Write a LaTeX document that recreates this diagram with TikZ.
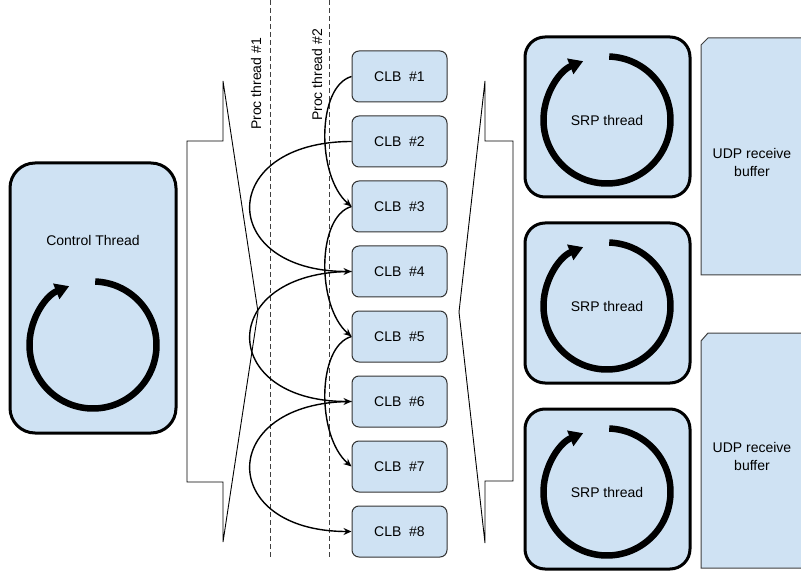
\documentclass[tikz,border=0pt]{standalone}
\usepackage{fontspec}
\setmainfont{Liberation Sans}
\usetikzlibrary{arrows.meta}
\definecolor{boxfill}{HTML}{CFE2F3}
\begin{document}
\begin{tikzpicture}[x=1pt,y=-1pt,
  font=\fontsize{14}{18}\selectfont,
  clb/.style={draw=black!80, line width=1pt, fill=boxfill, rounded corners=7pt,
    minimum width=95pt, minimum height=51pt, inner sep=0pt},
  thr/.style={draw=black, line width=3pt, fill=boxfill, inner sep=0pt},
  loop/.style={line width=6.5pt, -{Triangle[length=14pt,width=16pt]}},
  conn/.style={line width=1.4pt, -{Stealth[length=8pt,width=7pt]}},
  guide/.style={draw=black!75, line width=1pt, dash pattern=on 5pt off 3pt},
  funnel/.style={draw=black, line width=0.9pt},
  buf/.style={draw=black!75, line width=1pt, fill=boxfill},
  lbl/.style={inner sep=0pt, align=center}]
\useasboundingbox (0,0) rectangle (801,572);
\clip (0,0) rectangle (801,572);

% guides
\draw[guide] (270,0) -- (270,557);
\draw[guide] (329,0) -- (329,557);
\node[lbl, rotate=90, font=\fontsize{14}{16}\selectfont] (p1) at (256,84) {Proc thread \#1};
\node[lbl, rotate=90, font=\fontsize{14}{16}\selectfont] (p2) at (317,75) {Proc thread \#2};

% funnels
\draw[funnel] (187,141) -- (223,141) -- (223,81) -- (258,312) -- (223,542) -- (223,482) -- (187,482) -- cycle;
\draw[funnel] (513,141) -- (485,141) -- (485,81) -- (459,312) -- (485,543) -- (485,481) -- (513,481) -- cycle;

% control thread
\node[thr, rounded corners=25pt, minimum width=166pt, minimum height=270pt] (ctl) at (93,298) {};
\node[lbl] (ctltext) at (93,240) {Control Thread};
\draw[loop, shift={(93,345)}] (-88:63.5) arc[start angle=-88, end angle=248, radius=63.5];

% CLB boxes
\foreach \i in {1,...,8}
  \node[clb] (c\i) at (399.5,{76.5+65*(\i-1)}) {CLB\ \ \#\i};

% connectors
\draw[conn] (c1.west) .. controls +(-35,10) and +(-35,-30) .. (c3.west);
\draw[conn] (c3.west) .. controls +(-35,10) and +(-35,-30) .. (c5.west);
\draw[conn] (c5.west) .. controls +(-35,10) and +(-35,-30) .. (c7.west);
\draw[conn] (c2.west) .. controls +(-135,0) and +(-135,0) .. (c4.west);
\draw[conn] (c4.west) .. controls +(-135,0) and +(-135,0) .. (c6.west);
\draw[conn] (c6.west) .. controls +(-135,0) and +(-135,0) .. (c8.west);

% SRP threads
\foreach \k/\y in {1/117,2/303,3/489}{
  \node[thr, rounded corners=20pt, minimum width=165pt, minimum height=160pt] (srp\k) at (607.5,\y) {};
  \node[lbl] (srptext\k) at (607,\y+3) {SRP thread};
  \draw[loop, shift={(607,\y+3)}] (-88:63.5) arc[start angle=-88, end angle=248, radius=63.5];
}

% UDP buffers
\draw[buf] (701,275) -- (701,45) -- (708,38) -- (812,38) -- (812,275) -- cycle;
\node[lbl] (udp1) at (752,162) {UDP receive\\buffer};
\draw[buf] (701,568) -- (701,341) -- (708,333) -- (812,333) -- (812,568) -- cycle;
\node[lbl] (udp2) at (752,456) {UDP receive\\buffer};
\end{tikzpicture}
\end{document}
